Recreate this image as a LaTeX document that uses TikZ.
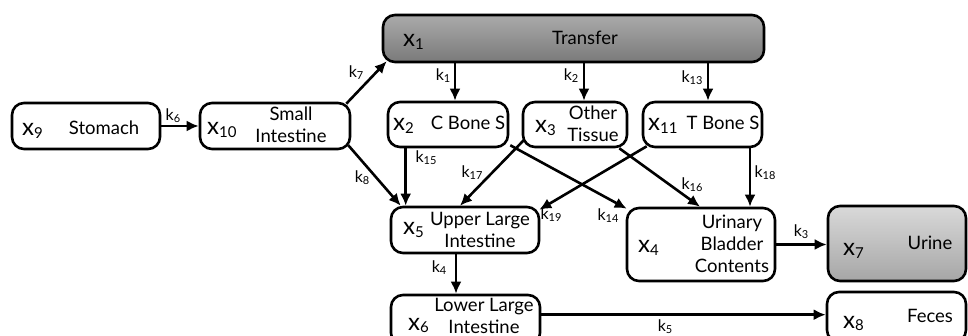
\documentclass[tikz,border=0pt]{standalone}
\usepackage{fontspec}
\setmainfont{Lato}
\usetikzlibrary{calc,arrows.meta}

\definecolor{trtop}{HTML}{AAAAAA}
\definecolor{trbot}{HTML}{7A7A7A}
\definecolor{urtop}{HTML}{D9D9D9}
\definecolor{urbot}{HTML}{A6A6A6}

% compartment label: large x with a small index
\newcommand{\cmp}[1]{{\fontsize{24}{24}\selectfont x}\raisebox{-2.5pt}{\fontsize{15}{15}\selectfont #1}}
% rate constant: k with a small index
\newcommand{\rate}[1]{{\fontsize{16}{16}\selectfont k}\raisebox{-2pt}{\fontsize{11}{11}\selectfont #1}}

\tikzset{
  cbox/.style={draw, line width=2.6pt, rounded corners=12pt, inner sep=0pt},
  ctext/.style={font=\fontsize{18.5}{22}\selectfont, align=center, inner sep=0pt},
  cline/.style={ctext, anchor=base},
  idx/.style={inner sep=0pt, anchor=base west},
  rlab/.style={inner sep=0pt},
  arr/.style={line width=2.6pt, -{Latex[length=12pt,width=11pt]}},
  darkfill/.style={top color=trtop, bottom color=trbot},
  lightfill/.style={top color=urtop, bottom color=urbot},
}

\begin{document}
\begin{tikzpicture}[x=1pt,y=-1pt]
\useasboundingbox (0,0) rectangle (968,336);
\begin{scope}
\clip (0,0) rectangle (968,336);

% compartments
\node[cbox, minimum width=148pt, minimum height=46pt] (st) at (86,126) {};
\node[cbox, minimum width=150pt, minimum height=46pt] (si) at (275,126) {};
\node[cbox, darkfill, minimum width=381pt, minimum height=47pt] (tr) at (573.5,38.5) {};
\node[cbox, minimum width=120pt, minimum height=45pt] (cb) at (448,124.5) {};
\node[cbox, minimum width=104pt, minimum height=45pt] (ot) at (575,124.5) {};
\node[cbox, minimum width=119pt, minimum height=45pt] (tb) at (702.5,124.5) {};
\node[cbox, minimum width=148pt, minimum height=46pt] (ul) at (465,230) {};
\node[cbox, minimum width=148pt, minimum height=73pt] (ub) at (701,244.5) {};
\node[cbox, lightfill, minimum width=138pt, minimum height=75pt] (ur) at (897,243.5) {};
\node[cbox, minimum width=149pt, minimum height=50pt] (ll) at (465.5,320) {};
\node[cbox, minimum width=139pt, minimum height=50pt] (fe) at (896.5,317) {};

% compartment texts
\node[idx] (stx) at (22,136) {\cmp{9}};
\node[cline] (stn) at (104,135) {Stomach};
\node[idx] (six) at (207,135) {\cmp{10}};
\node[ctext] (sin) at (291,125) {Small\\Intestine};
\node[idx] (trx) at (403,47) {\cmp{1}};
\node[cline] (trn) at (585,45) {Transfer};
\node[idx] (cbx) at (393,131) {\cmp{2}};
\node[cline] (cbn) at (468,130) {C Bone S};
\node[idx] (otx) at (535,133) {\cmp{3}};
\node[ctext] (otn) at (593,124) {Other\\Tissue};
\node[idx] (tbx) at (648,131) {\cmp{11}};
\node[cline] (tbn) at (723,130) {T Bone S};
\node[idx] (ulx) at (403,235) {\cmp{5}};
\node[ctext] (uln) at (480,229.5) {Upper Large\\Intestine};
\node[idx] (ubx) at (638,253) {\cmp{4}};
\node[ctext] (ubn) at (732,243.5) {Urinary\\Bladder\\Contents};
\node[idx] (urx) at (843,256) {\cmp{7}};
\node[cline] (urn) at (930,250) {Urine};
\node[idx] (llx) at (408,330) {\cmp{6}};
\node[ctext] (lln) at (484,315.5) {Lower Large\\Intestine};
\node[idx] (fex) at (843,328) {\cmp{8}};
\node[cline] (fen) at (930,322) {Feces};

% arrow end points that do not sit on a plain anchor
\coordinate (cbin) at ($(cb.north)+(7,0)$);
\coordinate (otin) at ($(ot.north)+(9,0)$);
\coordinate (tbin) at ($(tb.north)+(5.5,0)$);
\coordinate (cbout) at ($(cb.south west)+(19,0)$);
\coordinate (tbout) at ($(tb.south)+(47.5,0)$);
\coordinate (ulout) at ($(ul.south)+(-9,0)$);
\coordinate (llout) at ($(ll.north east)+(0,21)$);

% transfers
\draw[arr] (st.east) -- (si.west);
\draw[arr] ($(si.north east)+(-5,2)$) -- ($(tr.south west)+(5,-2)$);
\draw[arr] ($(si.south east)+(-3,-5)$) -- ($(ul.north west)+(11,0)$);
\draw[arr] (tr.south -| cbin) -- (cbin);
\draw[arr] (tr.south -| otin) -- (otin);
\draw[arr] (tr.south -| tbin) -- (tbin);
\draw[arr] (cbout) -- (ul.north -| cbout);
\draw[arr] ($(ot.south west)+(2,-8)$) -- ($(ul.north)+(-5,0)$);
\draw[arr] ($(tb.south west)+(5,-2)$) -- ($(ul.north east)+(-1,4)$);
\draw[arr] ($(cb.south east)+(1,-3)$) -- ($(ub.north west)+(1,2)$);
\draw[arr] ($(ot.south east)+(-9,0)$) -- ($(ub.north)+(-1,0)$);
\draw[arr] (tbout) -- (ub.north -| tbout);
\draw[arr] (ub.east) -- (ub.east -| ur.west);
\draw[arr] (ulout) -- (ll.north -| ulout);
\draw[arr] (llout) -- (llout -| fe.west);

% rate constants
\node[rlab] (k6) at (173,116) {\rate{6}};
\node[rlab] (k7) at (356,73) {\rate{7}};
\node[rlab] (k8) at (362,178) {\rate{8}};
\node[rlab] (k1) at (443,76) {\rate{1}};
\node[rlab] (k2) at (571,76) {\rate{2}};
\node[rlab] (k13) at (692,78) {\rate{13}};
\node[rlab] (k15) at (426,158) {\rate{15}};
\node[rlab] (k17) at (472,173) {\rate{17}};
\node[rlab] (k19) at (551,215) {\rate{19}};
\node[rlab] (k14) at (608,216) {\rate{14}};
\node[rlab] (k16) at (692,185) {\rate{16}};
\node[rlab] (k18) at (765,173) {\rate{18}};
\node[rlab] (k3) at (801,232) {\rate{3}};
\node[rlab] (k4) at (439,268) {\rate{4}};
\node[rlab] (k5) at (665,327) {\rate{5}};
\end{scope}
\end{tikzpicture}
\end{document}
